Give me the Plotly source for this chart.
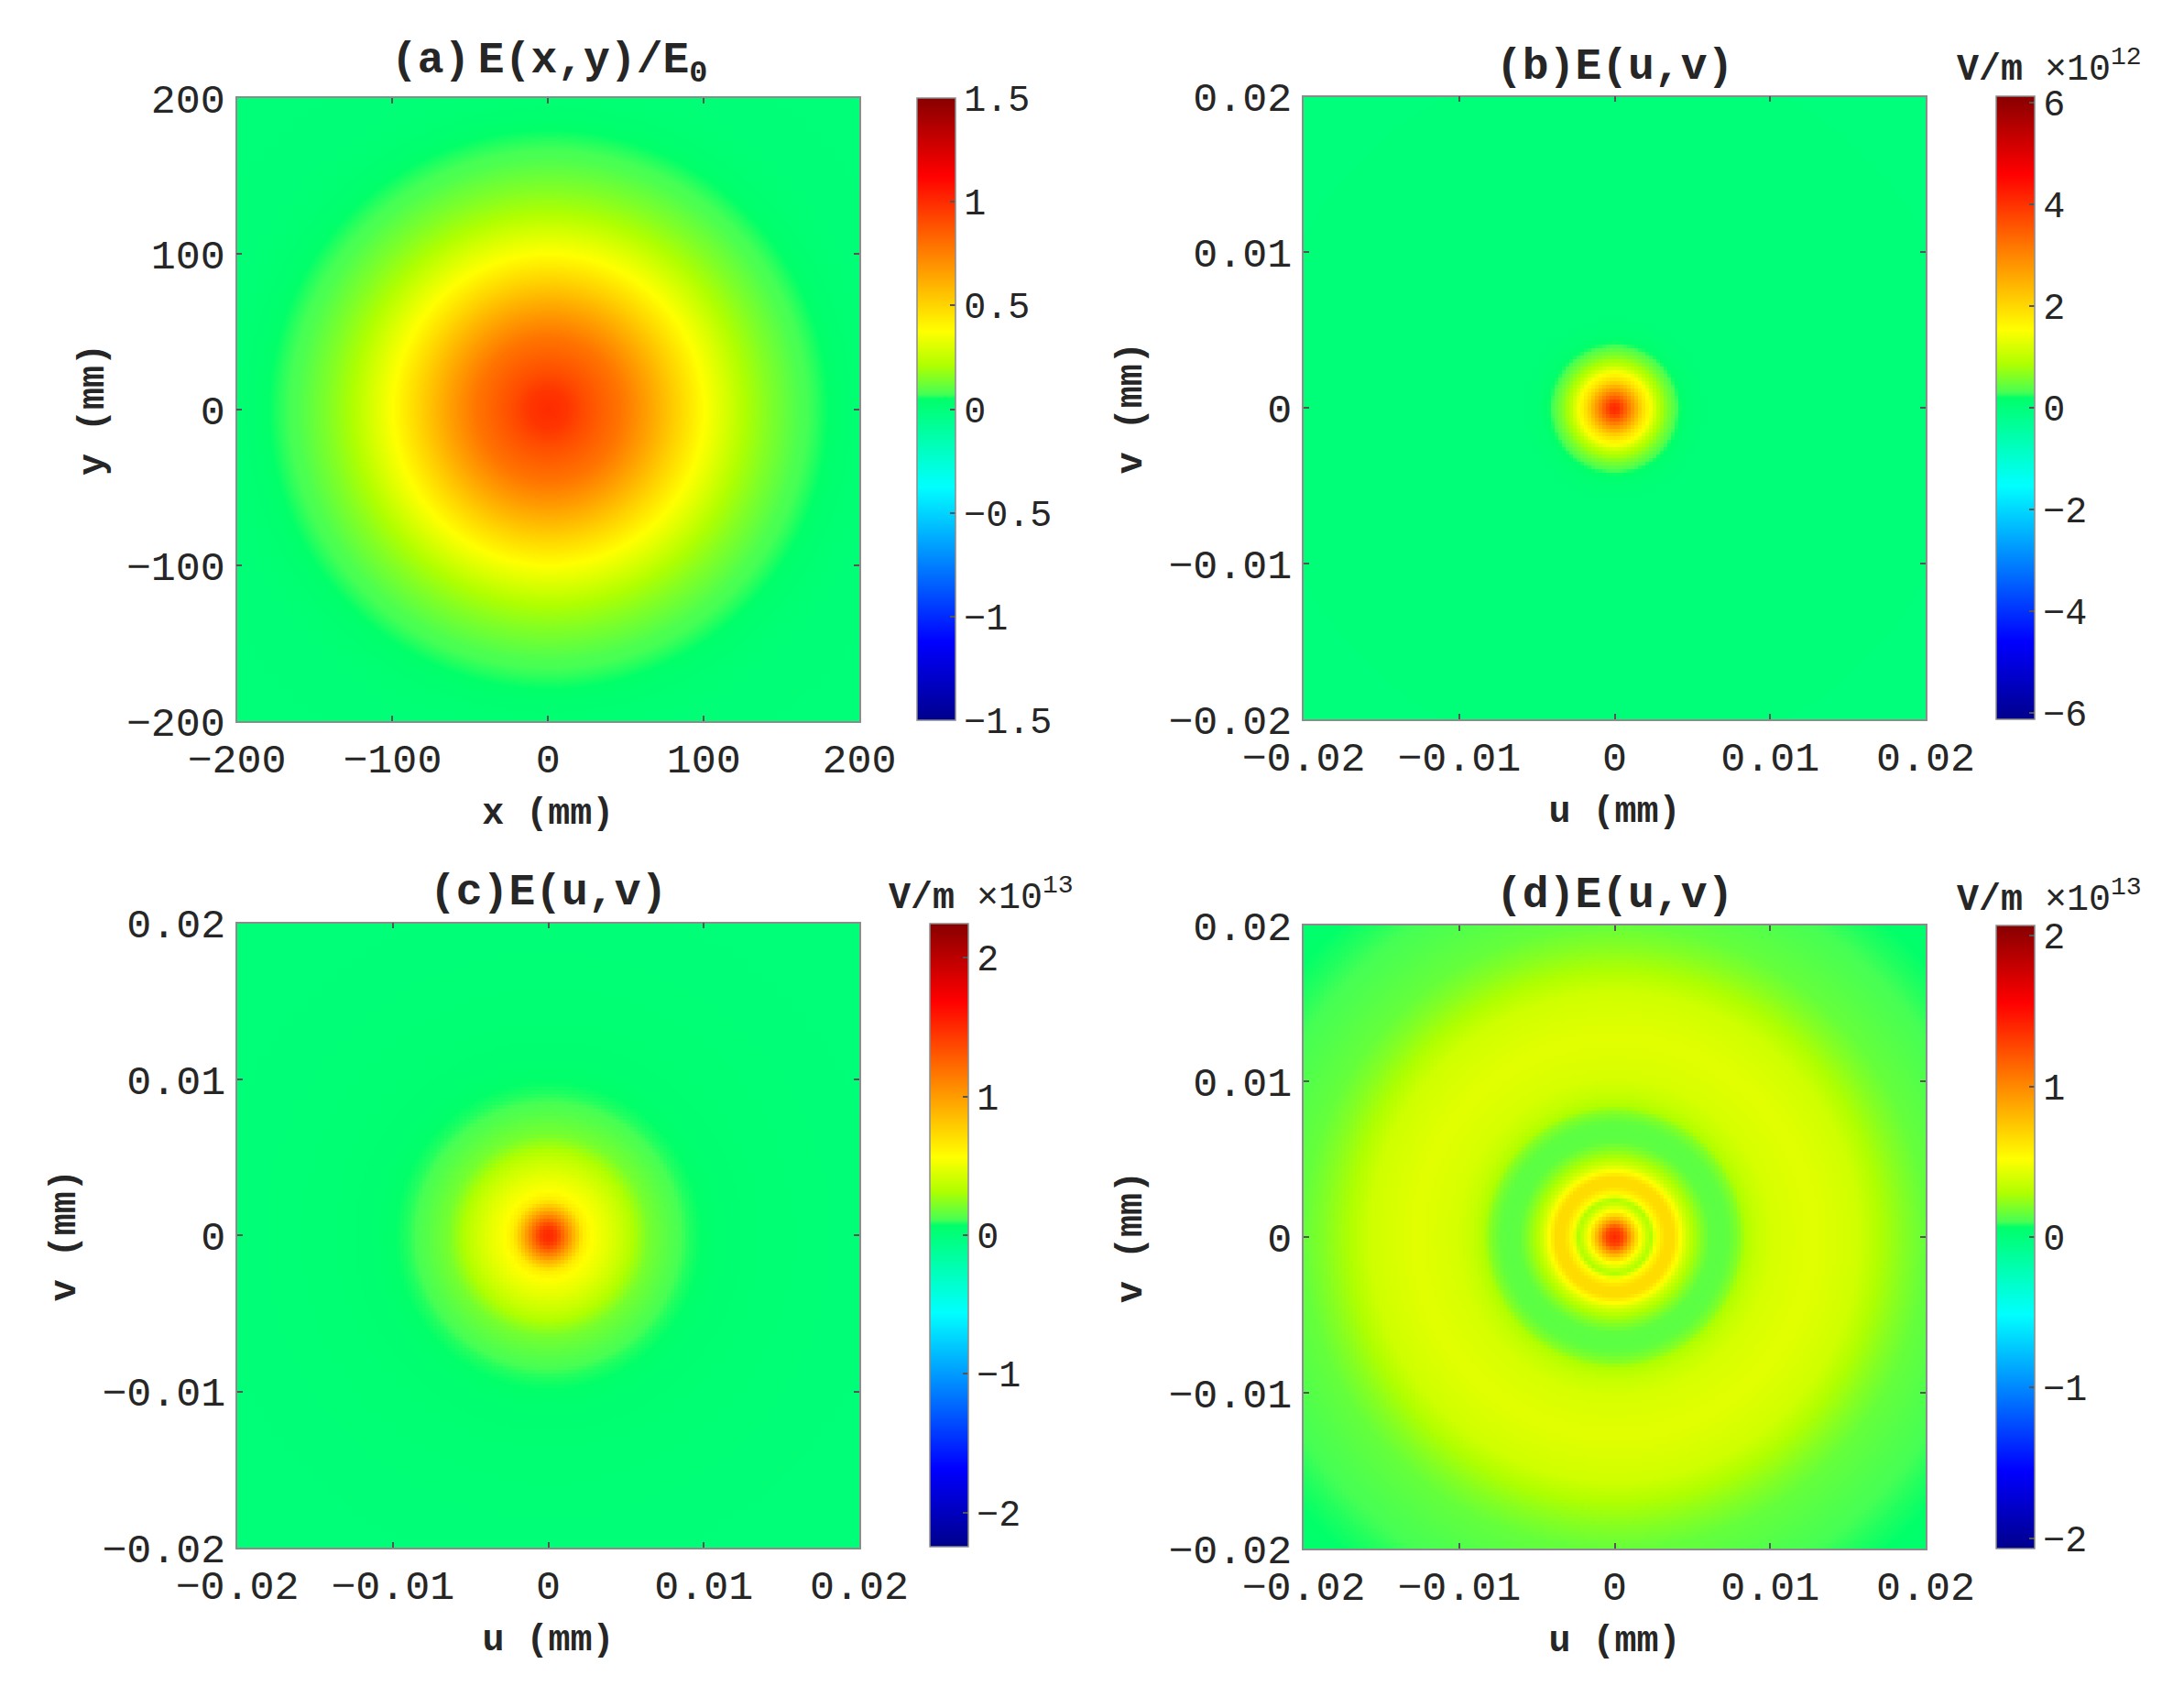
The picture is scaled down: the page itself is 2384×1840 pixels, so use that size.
import numpy as np
import plotly.graph_objects as go

# Radial field profiles (radius along the horizontal through the centre)
r_a = [0, 12, 23.5, 47, 63, 82, 100, 113, 126, 141, 161, 172, 190, 215, 290]
E_a = [1.0, 0.97, 0.9, 0.78, 0.66, 0.51, 0.375, 0.295, 0.21, 0.15, 0.08, 0.062, 0.03, 0.012, 0.0]

r_b = [0, 0.0003, 0.0006, 0.0012, 0.0018, 0.0023, 0.0028, 0.0034, 0.0041, 0.0047, 0.006, 0.03]
E_b = [4.1, 4.0, 3.6, 2.76, 1.96, 1.53, 0.98, 0.6, 0.245, 0.1, 0.02, 0.0]

r_c = [0, 0.0003, 0.00059, 0.00118, 0.00176, 0.00224, 0.00282, 0.00394, 0.00488, 0.00559, 0.00647, 0.00782, 0.009, 0.01118, 0.02, 0.0282]
E_c = [1.5, 1.48, 1.41, 1.12, 0.85, 0.65, 0.56, 0.47, 0.38, 0.30, 0.2, 0.135, 0.09, 0.045, 0.012, 0.005]

r_d = [0, 0.0003, 0.0006, 0.0010, 0.00135, 0.0017, 0.00206, 0.00235, 0.0027, 0.00324, 0.00382, 0.00424, 0.0046,
       0.00506, 0.0056, 0.0061, 0.00676, 0.00735, 0.008, 0.00841, 0.00912, 0.01018, 0.01276, 0.0157, 0.01706,
       0.01865, 0.02, 0.0225, 0.0250, 0.02824]
E_d = [1.385, 1.34, 1.24, 0.93, 0.70, 0.52, 0.37, 0.29, 0.52, 0.66, 0.66, 0.52, 0.39,
       0.29, 0.21, 0.145, 0.135, 0.145, 0.21, 0.29, 0.35, 0.40, 0.435, 0.38, 0.29,
       0.21, 0.155, 0.115, 0.083, 0.05]

# Axis and colour ranges
extent_a, extent_uv = 200, 0.02
cmax_a, cmax_b, cmax_c, cmax_d = 1.5, 6.13, 2.245, 2.067

# Tick labels
ticks_xy = [-200, -100, 0, 100, 200]
ticklabels_xy = ["−200", "−100", "0", "100", "200"]
ticks_uv = [-0.02, -0.01, 0, 0.01, 0.02]
ticklabels_uv = ["−0.02", "−0.01", "0", "0.01", "0.02"]

cb_ticks_a = [-1.5, -1, -0.5, 0, 0.5, 1, 1.5]
cb_labels_a = ["−1.5", "−1", "−0.5", "0", "0.5", "1", "1.5"]
cb_ticks_b = [-6, -4, -2, 0, 2, 4, 6]
cb_labels_b = ["−6", "−4", "−2", "0", "2", "4", "6"]
cb_ticks_c = [-2, -1, 0, 1, 2]
cb_labels_c = ["−2", "−1", "0", "1", "2"]
cb_ticks_d = [-2, -1, 0, 1, 2]
cb_labels_d = ["−2", "−1", "0", "1", "2"]

titles = ['<b>(a)<span style="font-size:14px"> </span>E(x,y)/E<sub>0</sub></b>', "<b>(b)E(u,v)</b>", "<b>(c)E(u,v)</b>", "<b>(d)E(u,v)</b>"]
units = ["", "<b>V/m</b> ×10<sup>12</sup>", "<b>V/m</b> ×10<sup>13</sup>", "<b>V/m</b> ×10<sup>13</sup>"]

colorscale = [
    [0.0, "rgb(0,0,140)"], [0.125, "rgb(0,0,255)"], [0.375, "rgb(0,255,255)"],
    [0.516, "rgb(0,255,105)"], [0.524, "rgb(70,255,84)"], [0.57, "rgb(175,255,0)"],
    [0.625, "rgb(255,255,0)"], [0.75, "rgb(255,128,0)"], [0.875, "rgb(255,0,0)"], [1.0, "rgb(135,0,0)"],
]

W, H = 2384, 1840
PAGE = 8  # the page body's own margin, taken off every position below
FONT = "Liberation Mono"
INK = "#262626"
GREY = "#8c8c8c"

def fx(px):
    return (px - PAGE) / W

def fy(py):
    return 1 - (py - PAGE) / H

panels = [
    dict(r=r_a, E=E_a, ext=extent_a, n=341, cmax=cmax_a, px=(258.5, 938), py=(107, 787), cbx=1001, cby=(107, 786),
         t=ticks_xy, tl=ticklabels_xy, cbt=cb_ticks_a, cbl=cb_labels_a, xt="<b>x (mm)</b>", yt="<b>y (mm)</b>",
         title=(599, 69), unit=None, ystand=12),
    dict(r=r_b, E=E_b, ext=extent_uv, n=171, cmax=cmax_b, px=(1423, 2102), py=(105.5, 785), cbx=2179, cby=(105.5, 785),
         t=ticks_uv, tl=ticklabels_uv, cbt=cb_ticks_b, cbl=cb_labels_b, xt="<b>u (mm)</b>", yt="<b>v (mm)</b>",
         title=(1762, 73), unit=(2134, 73), ystand=16),
    dict(r=r_c, E=E_c, ext=extent_uv, n=171, cmax=cmax_c, px=(259, 938), py=(1007.5, 1689), cbx=1015, cby=(1008, 1688),
         t=ticks_uv, tl=ticklabels_uv, cbt=cb_ticks_c, cbl=cb_labels_c, xt="<b>u (mm)</b>", yt="<b>v (mm)</b>",
         title=(598, 974), unit=(968, 977), ystand=16),
    dict(r=r_d, E=E_d, ext=extent_uv, n=171, cmax=cmax_d, px=(1423, 2102), py=(1010, 1690), cbx=2179, cby=(1010, 1690),
         t=ticks_uv, tl=ticklabels_uv, cbt=cb_ticks_d, cbl=cb_labels_d, xt="<b>u (mm)</b>", yt="<b>v (mm)</b>",
         title=(1762, 977), unit=(2134, 979), ystand=16),
]

fig = go.Figure()
annotations = []
for i, p in enumerate(panels):
    sx = "" if i == 0 else str(i + 1)
    grid = np.linspace(-p["ext"], p["ext"], p["n"])
    xx, yy = np.meshgrid(grid, grid)
    z = np.interp(np.hypot(xx, yy), p["r"], p["E"])
    fig.add_trace(go.Heatmap(
        x=grid, y=grid, z=z, xaxis=f"x{sx}", yaxis=f"y{sx}", zmin=-p["cmax"], zmax=p["cmax"],
        colorscale=colorscale, zsmooth=False, hoverinfo="skip",
        colorbar=dict(
            x=fx(p["cbx"]), xanchor="left", xpad=0, thickness=42,
            y=fy((p["cby"][0] + p["cby"][1]) / 2), yanchor="middle", ypad=0,
            lenmode="fraction", len=(p["cby"][1] - p["cby"][0]) / H,
            outlinecolor=GREY, outlinewidth=1.5, tickmode="array", tickvals=p["cbt"], ticktext=p["cbl"],
            ticks="inside", ticklen=6, tickcolor="#555555", tickwidth=1.5,
            tickfont=dict(family=FONT, size=40, color=INK),
        ),
    ))
    axis = dict(
        range=[-p["ext"], p["ext"]], tickmode="array", tickvals=p["t"], ticktext=p["tl"], ticks="inside", ticklen=6,
        tickcolor="#555555", tickwidth=1.5, showline=True, linecolor=GREY, linewidth=1.5, mirror="ticks",
        showgrid=False, zeroline=False, tickfont=dict(family=FONT, size=45, color=INK),
    )
    fig.update_layout({
        f"xaxis{sx}": dict(axis, domain=[fx(p["px"][0]), fx(p["px"][1])], anchor=f"y{sx}", ticklabelstandoff=0,
                           title=dict(text=p["xt"], font=dict(family=FONT, size=40, color=INK), standoff=15)),
        f"yaxis{sx}": dict(axis, domain=[fy(p["py"][1]), fy(p["py"][0])], anchor=f"x{sx}", ticklabelstandoff=2,
                           title=dict(text=p["yt"], font=dict(family=FONT, size=40, color=INK), standoff=p["ystand"])),
    })
    annotations.append(dict(text=titles[i], x=fx(p["title"][0]), y=fy(p["title"][1]), xref="paper", yref="paper",
                            xanchor="center", yanchor="middle", showarrow=False,
                            font=dict(family=FONT, size=48, color=INK)))
    if p["unit"]:
        annotations.append(dict(text=units[i], x=fx(p["unit"][0]), y=fy(p["unit"][1]), xref="paper", yref="paper",
                                xanchor="left", yanchor="middle", showarrow=False,
                                font=dict(family=FONT, size=40, color=INK)))

fig.update_layout(width=W, height=H, margin=dict(l=0, r=0, t=0, b=0, autoexpand=False), paper_bgcolor="white",
                  plot_bgcolor="white", annotations=annotations, showlegend=False)
fig.write_html("out.html")
